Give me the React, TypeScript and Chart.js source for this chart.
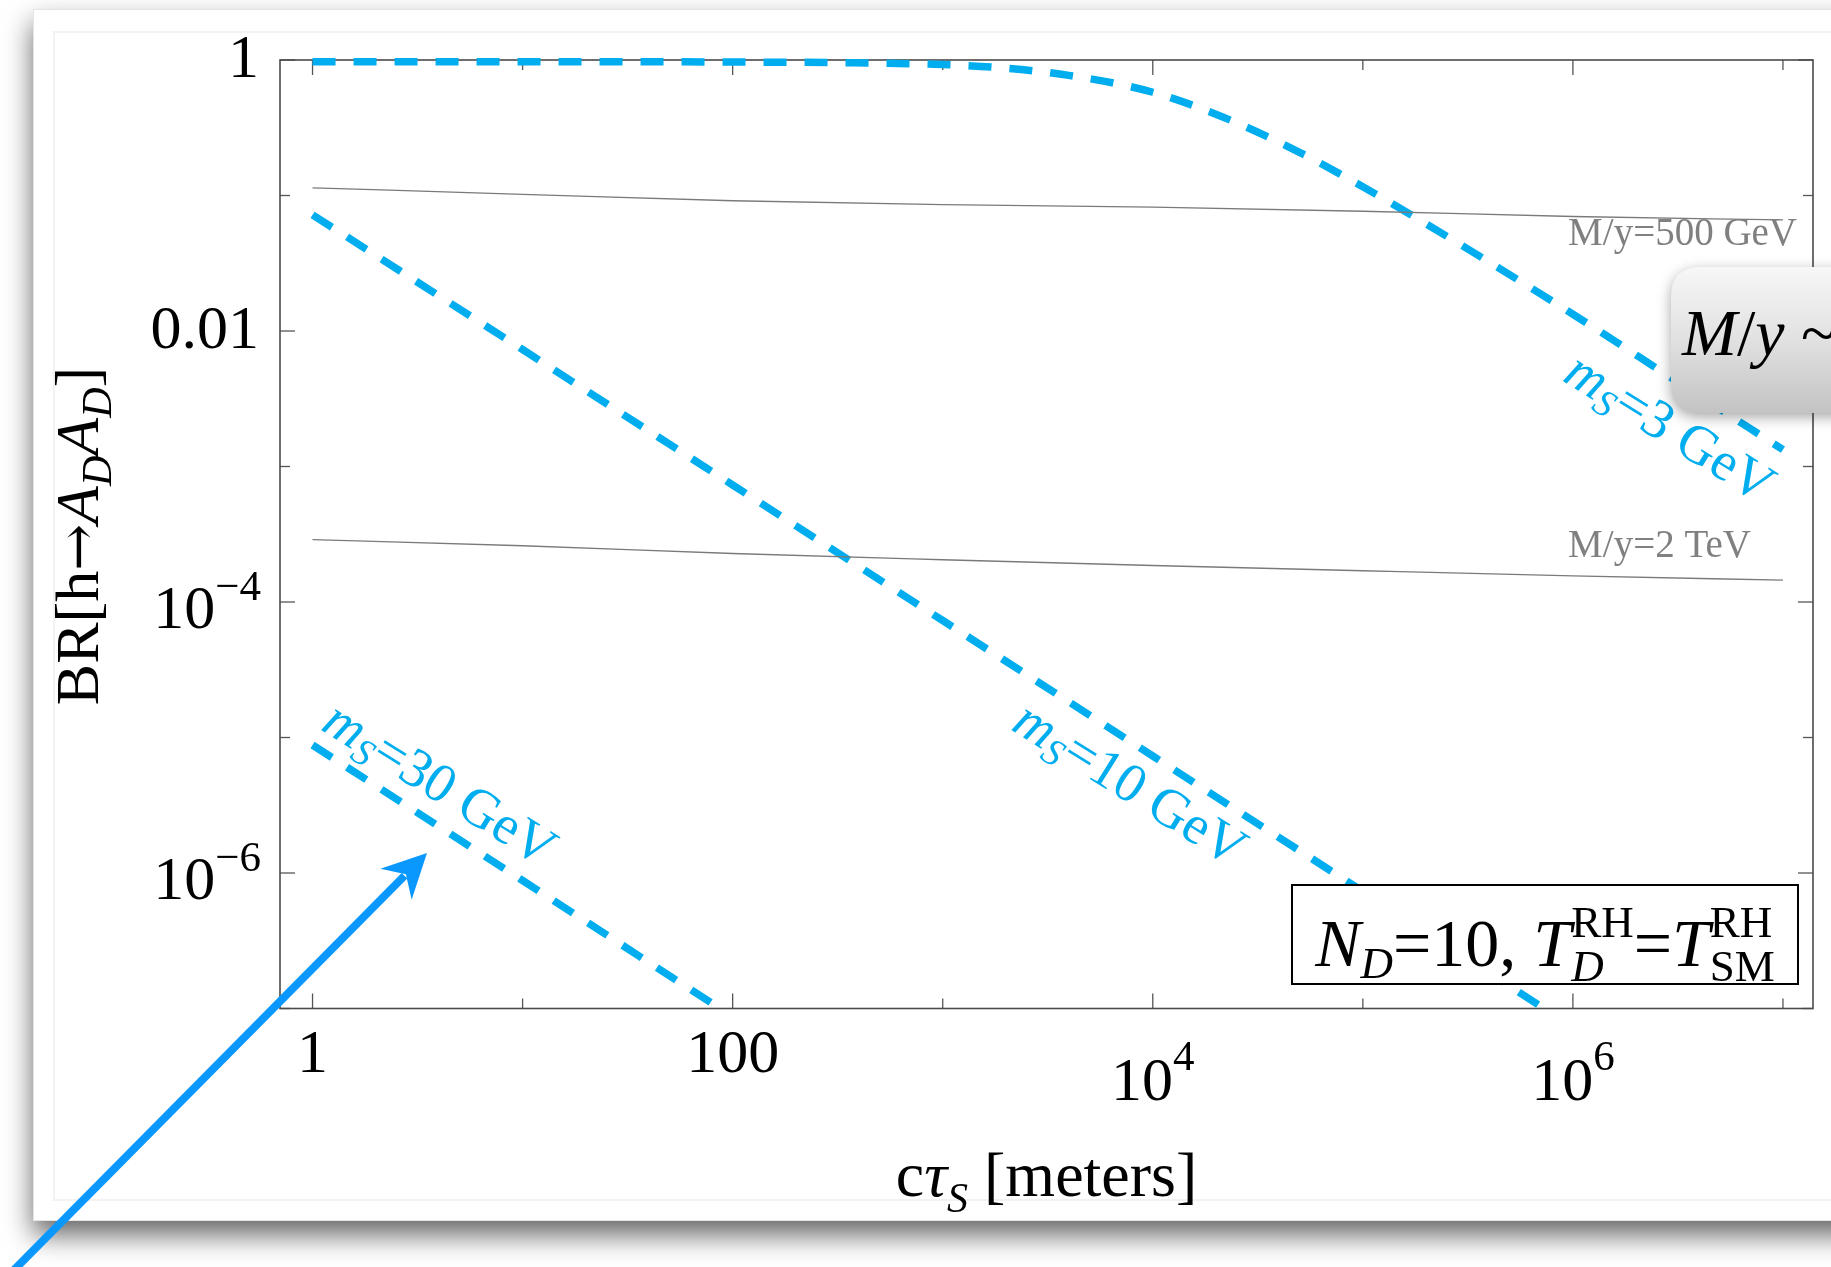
import React, { useEffect, useRef } from 'react';
import { Chart, registerables } from 'chart.js';

Chart.register(...registerables);

const W = 1831;
const H = 1267;

// ---------- data ----------
const ctauGrid = [1, 10, 100, 1000, 1e4, 1e5, 1e6, 1e7];
const brMy500GeV = [0.114, 0.102, 0.0915, 0.0855, 0.082, 0.0765, 0.07, 0.066];
const brMy2TeV = [2.89e-4, 2.6e-4, 2.28e-4, 2.05e-4, 1.86e-4, 1.7e-4, 1.56e-4, 1.45e-4];

const ctauMs3 = [1, 10, 100, 316, 1000, 1778, 3981, 1e4, 21380, 46770, 1e5, 213800, 446700, 1e6, 3.16e6, 1e7];
const brMs3 = [0.972, 0.972, 0.966, 0.956, 0.925, 0.883, 0.77, 0.578, 0.381, 0.219, 0.116, 0.058, 0.029, 0.0133, 4.2e-3, 1.33e-3];

const ctauMs10 = [1, 10, 100, 1000, 1e4, 1e5, 1e6];
const brMs10 = [0.072, 7.3e-3, 7.3e-4, 7.3e-5, 7.3e-6, 7.3e-7, 7.3e-8];

const ctauMs30 = [1, 10, 100];
const brMs30 = [8.8e-6, 8.8e-7, 8.7e-8];

// axis ranges and ticks
const X_MIN = 0.72;
const X_MAX = 1.39e7;
const Y_MIN = 1e-7;
const Y_MAX = 1;
const xMajorTicks = [1, 100, 1e4, 1e6];
const xMinorTicks = [10, 1000, 1e5, 1e7];
const xTickLabels: string[][] = [['1'], ['100'], ['10', '4'], ['10', '6']];
const yMajorTicks = [1, 0.01, 1e-4, 1e-6];
const yMinorTicks = [0.1, 1e-3, 1e-5, 1e-7];
const yTickLabels: string[][] = [['1'], ['0.01'], ['10', '\u22124'], ['10', '\u22126']];

// annotations (anchor in data coordinates)
const curveMasses = ['3', '10', '30'];
const curveLabelX = [8.79e5, 2084, 1.08];
const curveLabelY = [4.35e-3, 1.156e-5, 1.156e-5];
const grayLabelTexts = ['M/y=500 GeV', 'M/y=2 TeV'];
const grayLabelX = [9.49e5, 9.49e5];
const grayLabelY = [0.0431, 2.15e-4];

const CYAN = '#00AEEF';
const GRAY_LINE = '#7a7a7a';
const FONT = '"Liberation Serif", "Times New Roman", "DejaVu Serif", serif';
const ARROW_FONT = '"DejaVu Serif", serif';

type Seg = { t: string; s: number; it?: boolean; dy?: number; back?: boolean; fam?: string };
const fnt = (s: number, it?: boolean, fam?: string) => `${it ? 'italic ' : ''}${s}px ${fam || FONT}`;

function measureSegs(ctx: CanvasRenderingContext2D, segs: Seg[]) {
  let x = 0;
  let pending = 0;
  const xs: number[] = [];
  for (const g of segs) {
    ctx.font = fnt(g.s, g.it, g.fam);
    const w = ctx.measureText(g.t).width;
    xs.push(x);
    if (g.back) pending = Math.max(pending, w);
    else {
      x += Math.max(w, pending);
      pending = 0;
    }
  }
  return { xs, width: x + pending };
}

function drawSegs(
  ctx: CanvasRenderingContext2D,
  segs: Seg[],
  x0: number,
  y0: number,
  align: 'left' | 'center' | 'right',
  color: string
) {
  const m = measureSegs(ctx, segs);
  const off = align === 'left' ? 0 : align === 'center' ? -m.width / 2 : -m.width;
  ctx.fillStyle = color;
  ctx.textBaseline = 'alphabetic';
  ctx.textAlign = 'left';
  segs.forEach((g, i) => {
    ctx.font = fnt(g.s, g.it, g.fam);
    ctx.fillText(g.t, x0 + off + m.xs[i], y0 + (g.dy || 0));
  });
}

function roundRectPath(ctx: CanvasRenderingContext2D, x: number, y: number, w: number, h: number, r: number) {
  ctx.beginPath();
  ctx.moveTo(x + r, y);
  ctx.lineTo(x + w - r, y);
  ctx.quadraticCurveTo(x + w, y, x + w, y + r);
  ctx.lineTo(x + w, y + h - r);
  ctx.quadraticCurveTo(x + w, y + h, x + w - r, y + h);
  ctx.lineTo(x + r, y + h);
  ctx.quadraticCurveTo(x, y + h, x, y + h - r);
  ctx.lineTo(x, y + r);
  ctx.quadraticCurveTo(x, y, x + r, y);
  ctx.closePath();
}

const decor = {
  id: 'decor',
  beforeDraw(chart: any) {
    const ctx: CanvasRenderingContext2D = chart.ctx;
    ctx.save();
    ctx.fillStyle = '#ffffff';
    ctx.fillRect(0, 0, W, H);
    // slide card with drop shadow
    ctx.save();
    ctx.shadowColor = 'rgba(0,0,0,0.6)';
    ctx.shadowBlur = 26;
    ctx.shadowOffsetY = 14;
    ctx.fillStyle = '#ffffff';
    ctx.fillRect(33, 9, W + 60, 1221 - 9);
    ctx.restore();
    ctx.strokeStyle = '#e4e4e4';
    ctx.lineWidth = 1;
    ctx.strokeRect(33.5, 9.5, W + 40, 1211);
    ctx.strokeStyle = '#eeeeee';
    ctx.lineWidth = 1.5;
    ctx.beginPath();
    ctx.moveTo(W + 5, 32);
    ctx.lineTo(54, 32);
    ctx.lineTo(54, 1200);
    ctx.lineTo(W + 5, 1200);
    ctx.stroke();
    ctx.restore();
  },
  beforeDatasetsDraw(chart: any) {
    const ctx: CanvasRenderingContext2D = chart.ctx;
    const { left, right, top, bottom } = chart.chartArea;
    const xs = chart.scales.x;
    const ys = chart.scales.y;
    ctx.save();
    ctx.strokeStyle = '#555555';
    ctx.lineWidth = 1.3;
    const tick = (x1: number, y1: number, x2: number, y2: number) => {
      ctx.beginPath();
      ctx.moveTo(x1, y1);
      ctx.lineTo(x2, y2);
      ctx.stroke();
    };
    xMajorTicks.forEach((v) => {
      const p = xs.getPixelForValue(v);
      tick(p, bottom, p, bottom - 15);
      tick(p, top, p, top + 15);
    });
    xMinorTicks.forEach((v) => {
      const p = xs.getPixelForValue(v);
      tick(p, bottom, p, bottom - 10);
      tick(p, top, p, top + 10);
    });
    yMajorTicks.forEach((v) => {
      const p = ys.getPixelForValue(v);
      tick(left, p, left + 15, p);
      tick(right, p, right - 15, p);
    });
    yMinorTicks.forEach((v) => {
      const p = ys.getPixelForValue(v);
      tick(left, p, left + 10, p);
      tick(right, p, right - 10, p);
    });
    ctx.strokeStyle = '#4a4a4a';
    ctx.lineWidth = 1.6;
    ctx.strokeRect(left, top, right - left, bottom - top);
    ctx.restore();
  },
  afterDatasetsDraw(chart: any) {
    const ctx: CanvasRenderingContext2D = chart.ctx;
    const { left, right } = chart.chartArea;
    const xs = chart.scales.x;
    const ys = chart.scales.y;
    ctx.save();

    // curve labels (rotated along the dashed lines)
    curveMasses.forEach((m, i) => {
      const px = xs.getPixelForValue(curveLabelX[i]);
      const py = ys.getPixelForValue(curveLabelY[i]);
      ctx.save();
      ctx.translate(px, py);
      ctx.rotate((32 * Math.PI) / 180);
      drawSegs(
        ctx,
        [
          { t: 'm', s: 55, it: true },
          { t: 'S', s: 38, it: true, dy: 9 },
          { t: '=' + m + ' GeV', s: 55 },
        ],
        0,
        0,
        'left',
        CYAN
      );
      ctx.restore();
    });

    // gray labels
    grayLabelTexts.forEach((t, i) => {
      drawSegs(ctx, [{ t, s: 39 }], xs.getPixelForValue(grayLabelX[i]), ys.getPixelForValue(grayLabelY[i]), 'left', '#808080');
    });

    // N_D box
    ctx.fillStyle = '#ffffff';
    ctx.fillRect(1292, 885, 506, 99);
    ctx.strokeStyle = '#000000';
    ctx.lineWidth = 2;
    ctx.strokeRect(1292, 885, 506, 99);
    drawSegs(
      ctx,
      [
        { t: 'N', s: 68, it: true },
        { t: 'D', s: 45, it: true, dy: 12 },
        { t: '=10, ', s: 68 },
        { t: 'T', s: 68, it: true },
        { t: 'RH', s: 45, dy: -29, back: true },
        { t: 'D', s: 45, it: true, dy: 15 },
        { t: '=', s: 68 },
        { t: 'T', s: 68, it: true },
        { t: 'RH', s: 45, dy: -29, back: true },
        { t: 'SM', s: 45, dy: 15 },
      ],
      1545,
      966,
      'center',
      '#000000'
    );

    // x tick labels
    xMajorTicks.forEach((v, i) => {
      const p = xs.getPixelForValue(v);
      const lab = xTickLabels[i];
      if (lab.length === 1) {
        drawSegs(ctx, [{ t: lab[0], s: 62 }], p, 1072, 'center', '#000');
      } else {
        drawSegs(ctx, [{ t: lab[0], s: 62 }, { t: lab[1], s: 43, dy: -30 }], p, 1100, 'center', '#000');
      }
    });
    // y tick labels
    yMajorTicks.forEach((v, i) => {
      const p = ys.getPixelForValue(v);
      const lab = yTickLabels[i];
      if (lab.length === 1) {
        drawSegs(ctx, [{ t: lab[0], s: 62 }], 259, p + 17, 'right', '#000');
      } else {
        drawSegs(ctx, [{ t: lab[0], s: 62 }, { t: lab[1], s: 43, dy: -28 }], 261, p + 26, 'right', '#000');
      }
    });

    // axis titles
    drawSegs(
      ctx,
      [
        { t: 'c', s: 64 },
        { t: '\u03C4', s: 64, it: true },
        { t: 'S', s: 42, it: true, dy: 16 },
        { t: ' [meters]', s: 64 },
      ],
      (left + right) / 2,
      1196,
      'center',
      '#000'
    );
    ctx.save();
    ctx.translate(98, 536);
    ctx.rotate(-Math.PI / 2);
    drawSegs(
      ctx,
      [
        { t: 'BR[h', s: 62 },
        { t: '\u2192', s: 56, fam: ARROW_FONT, dy: -1 },
        { t: 'A', s: 62, it: true },
        { t: 'D', s: 42, it: true, dy: 13 },
        { t: 'A', s: 62, it: true },
        { t: 'D', s: 42, it: true, dy: 13 },
        { t: ']', s: 62 },
      ],
      0,
      0,
      'center',
      '#000'
    );
    ctx.restore();

    // callout bubble
    ctx.save();
    ctx.shadowColor = 'rgba(0,0,0,0.35)';
    ctx.shadowBlur = 14;
    ctx.shadowOffsetY = 4;
    roundRectPath(ctx, 1671, 267, 320, 146, 30);
    const grad = ctx.createLinearGradient(0, 267, 0, 413);
    grad.addColorStop(0, '#f7f7f7');
    grad.addColorStop(0.5, '#e1e1e1');
    grad.addColorStop(1, '#c3c3c3');
    ctx.fillStyle = grad;
    ctx.fill();
    ctx.restore();
    drawSegs(ctx, [{ t: 'M', s: 66, it: true }, { t: '/', s: 66 }, { t: 'y', s: 66, it: true }, { t: ' ~', s: 66 }], 1682, 355, 'left', '#000');

    // blue arrow
    const tip = { x: 427, y: 853 };
    const tail = { x: 6, y: 1278 };
    const ang = Math.atan2(tip.y - tail.y, tip.x - tail.x);
    const ux = Math.cos(ang);
    const uy = Math.sin(ang);
    const nx = -uy;
    const ny = ux;
    ctx.strokeStyle = '#0A98FF';
    ctx.fillStyle = '#0A98FF';
    ctx.lineWidth = 8;
    ctx.beginPath();
    ctx.moveTo(tail.x, tail.y);
    ctx.lineTo(tip.x - ux * 32, tip.y - uy * 32);
    ctx.stroke();
    ctx.beginPath();
    ctx.moveTo(tip.x, tip.y);
    ctx.lineTo(tip.x - ux * 44 + nx * 22, tip.y - uy * 44 + ny * 22);
    ctx.lineTo(tip.x - ux * 30, tip.y - uy * 30);
    ctx.lineTo(tip.x - ux * 44 - nx * 22, tip.y - uy * 44 - ny * 22);
    ctx.closePath();
    ctx.fill();

    ctx.restore();
  },
};

const mk = (xs: number[], ys: number[]) => xs.map((x, i) => ({ x, y: ys[i] }));

export default function App() {
  const ref = useRef<HTMLCanvasElement | null>(null);
  useEffect(() => {
    if (!ref.current) return;
    const dashed = { borderColor: CYAN, borderWidth: 7.5, borderDash: [23, 18], pointRadius: 0 };
    const chart = new Chart(ref.current, {
      type: 'line',
      data: {
        datasets: [
          { data: mk(ctauGrid, brMy500GeV), borderColor: GRAY_LINE, borderWidth: 1.3, pointRadius: 0, cubicInterpolationMode: 'monotone' },
          { data: mk(ctauGrid, brMy2TeV), borderColor: GRAY_LINE, borderWidth: 1.3, pointRadius: 0, cubicInterpolationMode: 'monotone' },
          {
            data: mk(ctauMs3, brMs3),
            ...dashed,
            cubicInterpolationMode: 'monotone',
            clip: { left: 0, top: 5, right: 0, bottom: 0 },
          },
          { data: mk(ctauMs10, brMs10), ...dashed },
          { data: mk(ctauMs30, brMs30), ...dashed },
        ] as any,
      },
      options: {
        animation: false,
        responsive: false,
        devicePixelRatio: 1,
        events: [],
        layout: { padding: { left: 280, right: 18, top: 60, bottom: 258.5 } },
        plugins: { legend: { display: false }, tooltip: { enabled: false }, title: { display: false } },
        scales: {
          x: { type: 'logarithmic', min: X_MIN, max: X_MAX, display: false },
          y: { type: 'logarithmic', min: Y_MIN, max: Y_MAX, display: false },
        },
      } as any,
      plugins: [decor as any],
    });
    return () => chart.destroy();
  }, []);
  return (
    <div style={{ position: 'fixed', left: 0, top: 0, width: W, height: H, overflow: 'hidden' }}>
      <canvas ref={ref} width={W} height={H} style={{ width: W, height: H, display: 'block' }} />
    </div>
  );
}
